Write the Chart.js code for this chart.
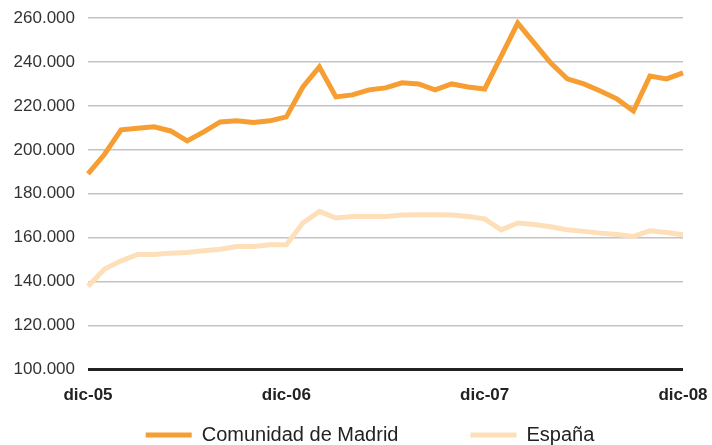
<!DOCTYPE html>
<html>
<head>
<meta charset="utf-8">
<script src="https://cdn.jsdelivr.net/npm/chart.js@4/dist/chart.umd.min.js"></script>
<style>
  html, body { margin: 0; padding: 0; background: #fff; }
  #wrap { width: 712px; height: 445px; position: relative; }
</style>
</head>
<body>
<div id="wrap"><canvas id="c" width="712" height="445"></canvas></div>
<script>
const months = [
  "dic-05","ene-06","feb-06","mar-06","abr-06","may-06","jun-06","jul-06","ago-06","sep-06","oct-06","nov-06",
  "dic-06","ene-07","feb-07","mar-07","abr-07","may-07","jun-07","jul-07","ago-07","sep-07","oct-07","nov-07",
  "dic-07","ene-08","feb-08","mar-08","abr-08","may-08","jun-08","jul-08","ago-08","sep-08","oct-08","nov-08",
  "dic-08"
];
const shownTicks = ["dic-05","dic-06","dic-07","dic-08"];

const madrid = [
  189100,198000,209100,209800,210500,208600,204100,208200,212700,213200,212500,213200,
  215000,228600,237700,224100,225000,227300,228200,230500,230000,227300,230000,228600,
  227700,242700,257700,248600,239500,232300,230000,226800,223200,217700,233600,232300,
  235000
];
const espana = [
  137900,145800,149500,152400,152400,153000,153300,154100,154800,156000,156000,156800,
  156800,166700,172000,169000,169700,169700,169700,170300,170500,170500,170300,169700,
  168600,163600,166700,166000,165000,163600,162900,162100,161500,160600,163200,162400,
  161400
];
const seriesNames = ["Comunidad de Madrid", "España"];
const yTicks = [100000,120000,140000,160000,180000,200000,220000,240000,260000];

function fmt(v) {
  return String(Math.round(v)).replace(/\B(?=(\d{3})+(?!\d))/g, ".");
}

const LEGEND_FONT = 20;
const LEGEND_GAP = 72;

// keep the legend row compact vertically while keeping wide horizontal spacing
const legendFix = {
  id: 'legendFix',
  beforeLayout(chart) {
    const lg = chart.legend;
    if (lg && !lg.__wrapped) {
      const orig = lg.fit;
      lg.fit = function() { orig.call(this); this.height = 23; };
      lg.__wrapped = true;
    }
  },
  beforeDraw(chart) {
    const lg = chart.legend;
    if (lg) {
      lg.top = lg.bottom - LEGEND_FONT - LEGEND_GAP;
      lg.height = lg.bottom - lg.top;
      lg.left = 28;
      lg.right = chart.width;
      lg.width = lg.right - lg.left;
    }
  }
};

const ctx = document.getElementById('c').getContext('2d');
new Chart(ctx, {
  type: 'line',
  data: {
    labels: months,
    datasets: [
      { label: seriesNames[0], data: madrid, borderColor: '#F69E31', backgroundColor: '#F69E31',
        borderWidth: 5, pointRadius: 0, tension: 0, borderJoinStyle: 'miter' },
      { label: seriesNames[1], data: espana, borderColor: '#FDDFBA', backgroundColor: '#FDDFBA',
        borderWidth: 5, pointRadius: 0, tension: 0, borderJoinStyle: 'miter' }
    ]
  },
  plugins: [legendFix],
  options: {
    responsive: false,
    animation: false,
    layout: { padding: { left: 0, right: 29, top: 18, bottom: 0 } },
    plugins: {
      tooltip: { enabled: false },
      legend: {
        position: 'bottom',
        labels: {
          font: { family: 'Liberation Sans, Arial, sans-serif', size: LEGEND_FONT },
          color: '#222',
          boxWidth: 46,
          boxHeight: 5,
          padding: LEGEND_GAP,
          generateLabels: function(chart) {
            const items = Chart.defaults.plugins.legend.labels.generateLabels(chart);
            items.forEach(function(it) { it.lineWidth = 0; });
            return items;
          }
        }
      }
    },
    scales: {
      x: {
        type: 'category',
        offset: false,
        afterFit: function(scale) { scale.paddingLeft = 0; scale.paddingRight = 0; },
        grid: { display: false, drawTicks: false },
        border: { display: false },
        ticks: {
          autoSkip: false,
          maxRotation: 0,
          padding: 16,
          color: '#222',
          font: { family: 'Liberation Sans, Arial, sans-serif', size: 17, weight: 'bold' },
          callback: function(val, idx) {
            const l = months[idx];
            return shownTicks.indexOf(l) >= 0 ? l : '';
          }
        }
      },
      y: {
        min: 100000,
        max: 260000,
        afterFit: function(scale) { scale.width = 88; scale.paddingTop = 0; scale.paddingBottom = 0; },
        afterBuildTicks: function(scale) { scale.ticks = yTicks.map(function(v){ return { value: v }; }); },
        grid: {
          drawTicks: false,
          color: function(c) { return c.tick && c.tick.value === 100000 ? '#222' : '#c4c4c4'; },
          lineWidth: function(c) { return c.tick && c.tick.value === 100000 ? 3 : 1.5; }
        },
        border: { display: false },
        ticks: {
          padding: 13,
          color: '#333',
          font: { family: 'Liberation Sans, Arial, sans-serif', size: 17 },
          callback: function(v) { return fmt(v); }
        }
      }
    }
  }
});
</script>
</body>
</html>
